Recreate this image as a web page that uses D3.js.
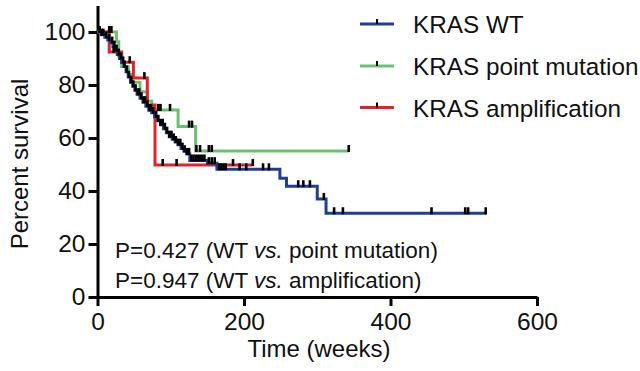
<!DOCTYPE html>
<html>
<head>
<meta charset="utf-8">
<script src="https://cdn.jsdelivr.net/npm/d3@7"></script>
<style>
  body { margin: 0; background: #fff; }
  text { font-family: "Liberation Sans", Arial, Helvetica, sans-serif; fill: #111; }
</style>
</head>
<body>
<div id="chart"></div>
<script>
// survival steps (time in weeks, percent after the step)
var wtTime = [0, 5, 10, 14, 18, 21, 24, 27, 30, 33, 36, 39, 42, 45, 48, 51, 54, 58, 62, 66, 70, 74, 78, 82, 86, 90, 94, 98, 102, 106, 110, 114, 118, 122, 126, 150, 163, 249, 258, 300, 312];
var wtSurv = [100, 99, 98, 97, 96, 94.5, 93, 91.5, 90, 88.5, 87, 85, 83, 81, 79.5, 78, 76.5, 75, 73.5, 72, 70.5, 69.5, 68, 66.5, 65, 63.5, 62, 60.5, 59.5, 58.5, 57.5, 56, 55, 54, 51.5, 50.5, 48.2, 44.8, 41.8, 37, 31.6];
var wtEnd = 531;
var wtCensor = [3, 6, 8, 12, 16, 20, 23, 26, 29, 32, 35, 37, 40, 43, 46, 49, 52, 55, 57, 60, 63, 65, 68, 71, 73, 76, 80, 83, 86, 89, 92, 95, 98, 101, 104, 107, 110, 113, 116, 119, 122, 125, 128, 131, 134, 137, 140, 143, 146, 152, 156, 160, 166, 169, 172, 175, 194, 203, 226, 234, 274, 281, 290, 309, 323, 335, 456, 502, 506, 530];

var pmTime = [0, 26, 29, 33, 42, 47, 58, 68, 74, 110, 134];
var pmSurv = [100, 96.3, 91, 87, 84, 81, 77.5, 74, 70.6, 64.3, 55.1];
var pmEnd = 343;
var pmCensor = [16, 19, 83, 86, 99, 125, 129, 135, 140, 152, 156, 343];

var amTime = [0, 16, 33, 49, 68, 78.5];
var amSurv = [100, 92.5, 88.6, 82.6, 72.5, 49.8];
var amEnd = 212;
var amCensor = [22, 44, 64, 89, 108, 185, 212];

var seriesNames = ["KRAS WT", "KRAS point mutation", "KRAS amplification"];
var seriesColors = ["#1d3f95", "#6cc071", "#e3222a"];

var xTicks = [0, 200, 400, 600];
var yTicks = [0, 20, 40, 60, 80, 100];

var width = 640, height = 371;

var svg = d3.select("#chart").append("svg")
    .attr("width", width)
    .attr("height", height);

//scales
var xScale = d3.scaleLinear().domain([0, 600]).range([97.5, 537]);
var yScale = d3.scaleLinear().domain([0, 110]).range([297, 5.5]);

//axes
var xAxis = svg.append("g")
    .attr("transform", "translate(0," + yScale(0) + ")")
    .call(d3.axisBottom(xScale).tickValues(xTicks).tickSize(9).tickSizeOuter(0).tickPadding(7));

var yAxis = svg.append("g")
    .attr("transform", "translate(" + xScale(0) + ",0)")
    .call(d3.axisLeft(yScale).tickValues(yTicks).tickSize(9).tickSizeOuter(0).tickPadding(3));

[xAxis, yAxis].forEach(function(a) {
    a.select(".domain").attr("stroke", "#000").attr("stroke-width", 3);
    a.selectAll(".tick line").attr("stroke", "#000").attr("stroke-width", 3);
    a.selectAll(".tick text").style("font-size", "24.5px").attr("fill", "#111")
        .style("font-family", "'Liberation Sans', Arial, sans-serif");
});

//axis titles
svg.append("text")
    .attr("x", 319)
    .attr("y", 357)
    .attr("text-anchor", "middle")
    .style("font-size", "24px")
    .text("Time (weeks)");

svg.append("text")
    .attr("transform", "translate(28," + 164 + ") rotate(-90)")
    .attr("text-anchor", "middle")
    .style("font-size", "24px")
    .text("Percent survival");

//curves
function survAt(times, surv, t) {
    var i = d3.bisectRight(times, t) - 1;
    return surv[Math.max(0, i)];
}

var line = d3.line()
    .x(d => xScale(d[0]))
    .y(d => yScale(d[1]))
    .curve(d3.curveStepAfter);

var series = [
    { t: wtTime, s: wtSurv, end: wtEnd, c: wtCensor, color: seriesColors[0] },
    { t: pmTime, s: pmSurv, end: pmEnd, c: pmCensor, color: seriesColors[1] },
    { t: amTime, s: amSurv, end: amEnd, c: amCensor, color: seriesColors[2] }
];

// draw green, red, then blue on top
[1, 2, 0].forEach(function(k) {
    var d = series[k];
    var pts = d.t.map((t, i) => [t, d.s[i]]);
    pts.push([d.end, d.s[d.s.length - 1]]);
    svg.append("path")
        .datum(pts)
        .attr("fill", "none")
        .attr("stroke", d.color)
        .attr("stroke-width", 3)
        .attr("d", line);
});

// censor ticks
[1, 2, 0].forEach(function(k) {
    var d = series[k];
    svg.append("g").selectAll("line")
        .data(d.c)
        .enter()
        .append("line")
        .attr("x1", t => xScale(t))
        .attr("x2", t => xScale(t))
        .attr("y1", t => yScale(survAt(d.t, d.s, t)) - 6)
        .attr("y2", t => yScale(survAt(d.t, d.s, t)) + 1)
        .attr("stroke", "#000")
        .attr("stroke-width", 2.6);
});

//legend
var legend = svg.append("g");
var legendY = [24, 66, 107.5];
seriesNames.forEach(function(name, i) {
    legend.append("line")
        .attr("x1", 360).attr("x2", 394)
        .attr("y1", legendY[i]).attr("y2", legendY[i])
        .attr("stroke", seriesColors[i])
        .attr("stroke-width", 3);
    legend.append("line")
        .attr("x1", 377).attr("x2", 377)
        .attr("y1", legendY[i] - 5).attr("y2", legendY[i])
        .attr("stroke", "#000")
        .attr("stroke-width", 2);
    legend.append("text")
        .attr("x", 413)
        .attr("y", legendY[i] + 9)
        .style("font-size", "24.3px")
        .text(name);
});

//p values
var pLines = [
    ["P=0.427 (WT ", "vs.", " point mutation)"],
    ["P=0.947 (WT ", "vs.", " amplification)"]
];
var pY = [258, 288];
pLines.forEach(function(parts, i) {
    var t = svg.append("text")
        .attr("x", 115)
        .attr("y", pY[i])
        .style("font-size", "22.5px");
    t.append("tspan").text(parts[0]);
    t.append("tspan").style("font-style", "italic").text(parts[1]);
    t.append("tspan").text(parts[2]);
});
</script>
</body>
</html>
